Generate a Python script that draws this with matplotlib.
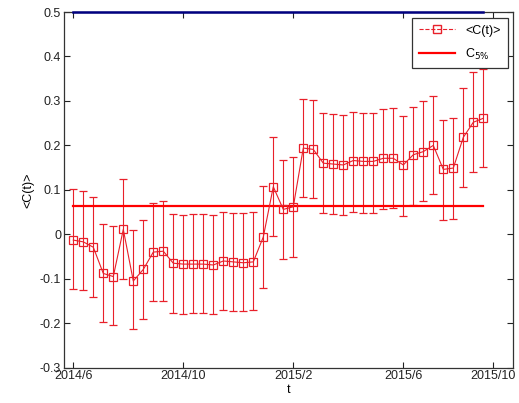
import matplotlib
matplotlib.use("Agg")
import matplotlib.pyplot as plt
from matplotlib.lines import Line2D

plt.rcParams['font.family'] = ['Liberation Sans', 'DejaVu Sans']
plt.rcParams['font.size'] = 9

# mean correlation <C(t)> and errorbar ends, one point per time step
c_mean = [-0.013, -0.017, -0.029, -0.088, -0.095, 0.011, -0.105, -0.079, -0.040, -0.038,
          -0.065, -0.067, -0.067, -0.067, -0.069, -0.060, -0.062, -0.064, -0.062, -0.006,
          0.107, 0.056, 0.062, 0.194, 0.191, 0.160, 0.158, 0.156, 0.166, 0.164,
          0.164, 0.171, 0.171, 0.156, 0.179, 0.186, 0.200, 0.146, 0.149, 0.218,
          0.252, 0.261]
c_top = [0.101, 0.098, 0.084, 0.024, 0.018, 0.125, 0.009, 0.032, 0.070, 0.074,
         0.045, 0.043, 0.045, 0.045, 0.043, 0.050, 0.049, 0.049, 0.050, 0.108,
         0.220, 0.167, 0.173, 0.305, 0.302, 0.272, 0.270, 0.268, 0.275, 0.272,
         0.272, 0.282, 0.285, 0.267, 0.287, 0.299, 0.310, 0.256, 0.261, 0.329,
         0.364, 0.371]
c_bottom = [-0.122, -0.126, -0.141, -0.197, -0.205, -0.101, -0.213, -0.190, -0.150, -0.150,
            -0.176, -0.179, -0.176, -0.176, -0.179, -0.171, -0.173, -0.173, -0.170, -0.120,
            -0.004, -0.056, -0.051, 0.085, 0.081, 0.049, 0.046, 0.044, 0.051, 0.048,
            0.048, 0.058, 0.060, 0.041, 0.067, 0.075, 0.090, 0.032, 0.035, 0.107,
            0.140, 0.152]
c_5pct = 0.063
c_upper = 0.5

tick_pos = [0, 11, 22, 33, 42]
tick_names = ["2014/6", "2014/10", "2015/2", "2015/6", "2015/10"]

t = list(range(len(c_mean)))
err_lo = [m - b for m, b in zip(c_mean, c_bottom)]
err_hi = [h - m for m, h in zip(c_mean, c_top)]

red = "#e8202a"
fig = plt.figure(figsize=(5.19, 4.03), dpi=100)
ax = fig.add_axes([0.1233, 0.0876, 0.8657, 0.8826])

ax.errorbar(t, c_mean, yerr=[err_lo, err_hi], color=red, lw=0.8, elinewidth=0.8,
            capsize=3, capthick=0.8, marker="s", ms=5.5, mfc="none", mec=red, mew=0.9)
ax.plot([t[0], t[-1]], [c_5pct, c_5pct], color="#ff0000", lw=1.6)
ax.plot([t[0], t[-1]], [c_upper, c_upper], color="#000080", lw=1.8, clip_on=False, zorder=5)

ax.set_xlim(-0.93, 44)
ax.set_ylim(-0.3, 0.5)
ax.set_xticks(tick_pos)
ax.set_xticklabels(tick_names)
ax.set_yticks([-0.3, -0.2, -0.1, 0, 0.1, 0.2, 0.3, 0.4, 0.5])
ax.set_yticklabels(["-0.3", "-0.2", "-0.1", "0", "0.1", "0.2", "0.3", "0.4", "0.5"])
ax.tick_params(direction="in", length=4, width=0.8, top=True, right=True, colors="#222222",
               labelcolor="#222222", pad=2)
for s in ax.spines.values():
    s.set_linewidth(0.9)
    s.set_color("#333333")

ax.set_xlabel("t", labelpad=1)
ax.set_ylabel("<C(t)>", labelpad=4)

handles = [Line2D([], [], color=red, ls="--", lw=0.8, marker="s", ms=6, mfc="none", mec=red),
           Line2D([], [], color="#ff0000", lw=1.6)]
leg = ax.legend(handles, ["<C(t)>", "C$_{5\\%}$"], loc="upper right", fancybox=False,
                framealpha=1, edgecolor="#333333", borderaxespad=0.45, handlelength=2.9,
                borderpad=0.55, labelspacing=0.8)
leg.get_frame().set_linewidth(0.9)
leg.set_zorder(10)

fig.savefig("out.png", dpi=100)
